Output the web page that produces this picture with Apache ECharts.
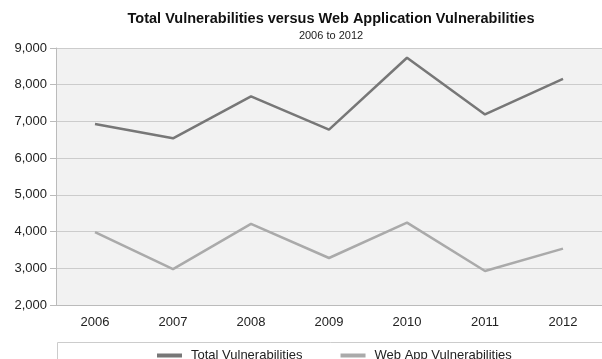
<!DOCTYPE html>
<html lang="en">
<head>
    <meta charset="UTF-8">
    <title>Total Vulnerabilities versus Web Application Vulnerabilities</title>
    <script src="https://cdn.jsdelivr.net/npm/echarts@6/dist/echarts.min.js"></script>
</head>
<style type="text/css">
    body{
        margin:0;
        background:#fff;
    }
    #chart{
        width: 602px;
        height: 359px;
    }
</style>
<body>
    <div id="chart"></div>
<script type="text/javascript">
var years = ['2006', '2007', '2008', '2009', '2010', '2011', '2012'];
var totalVulns = [6930, 6540, 7680, 6775, 8735, 7190, 8160];
var webAppVulns = [3985, 2975, 4210, 3280, 4245, 2925, 3535];

var font = '"Liberation Sans", Arial, sans-serif';

var option = {
    backgroundColor: '#fff',
    animation: false,
    title: [{
        text: 'Total Vulnerabilities versus Web Application Vulnerabilities',
        left: 331,
        textAlign: 'center',
        top: 11,
        padding: 0,
        textStyle: {fontFamily: font, fontSize: 14.5, fontWeight: 'bold', color: '#111'}
    }, {
        text: '2006 to 2012',
        left: 331,
        textAlign: 'center',
        top: 30,
        padding: 0,
        textStyle: {fontFamily: font, fontSize: 11, fontWeight: 'normal', color: '#222'}
    }],
    graphic: [{
        type: 'rect',
        left: 57,
        top: 342,
        shape: {width: 560, height: 30},
        style: {fill: '#fff', stroke: '#ccc', lineWidth: 1}
    }],
    legend: {
        left: 152,
        top: 344,
        itemWidth: 25,
        itemHeight: 4,
        itemGap: 38,
        icon: 'rect',
        textStyle: {fontFamily: font, fontSize: 13, color: '#222', padding: [0, 0, 0, 4]},
        data: ['Total Vulnerabilities', 'Web App Vulnerabilities']
    },
    grid: {
        show: true,
        left: 56,
        top: 48,
        bottom: 54,
        right: -4,
        backgroundColor: '#f2f2f2',
        borderWidth: 0
    },
    xAxis: {
        type: 'category',
        data: years,
        boundaryGap: true,
        axisLine: {lineStyle: {color: '#bbb', width: 1}},
        axisTick: {show: false},
        axisLabel: {fontFamily: font, fontSize: 13, color: '#222', margin: 11}
    },
    yAxis: {
        type: 'value',
        min: 2000,
        max: 9000,
        interval: 1000,
        axisLine: {show: true, lineStyle: {color: '#bbb', width: 1}},
        axisTick: {show: true, length: 6, lineStyle: {color: '#bbb'}},
        splitLine: {lineStyle: {color: '#ccc', width: 1}},
        axisLabel: {
            fontFamily: font, fontSize: 13, color: '#222', margin: 9,
            formatter: function (v) { return v.toLocaleString('en-US'); }
        }
    },
    series: [{
        name: 'Total Vulnerabilities',
        type: 'line',
        data: totalVulns,
        symbol: 'none',
        color: '#777',
        lineStyle: {color: '#777', width: 2.5}
    }, {
        name: 'Web App Vulnerabilities',
        type: 'line',
        data: webAppVulns,
        symbol: 'none',
        color: '#aaa',
        lineStyle: {color: '#aaa', width: 2.5}
    }]
};

var myChart = echarts.init(document.getElementById('chart'));
myChart.setOption(option);
</script>
</body>
</html>
